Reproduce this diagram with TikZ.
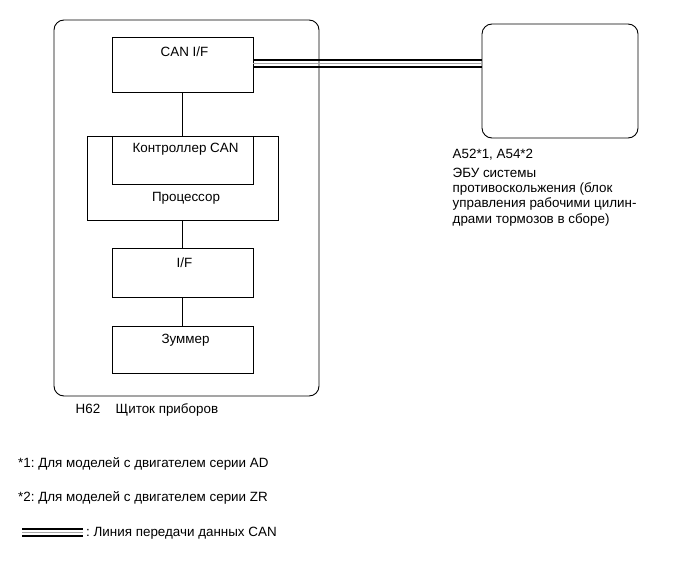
\documentclass[tikz,border=0pt]{standalone}
\usepackage{fontspec}
\setmainfont{Liberation Sans}
\frenchspacing
\begin{document}
\begin{tikzpicture}[x=1pt,y=-1pt,
  box/.style={draw=black, line width=0.9pt, rectangle, inner sep=0pt},
  rbox/.style={draw=black, line width=0.9pt, rectangle, rounded corners=10pt, inner sep=0pt},
  txt/.style={inner sep=0pt, anchor=base, font=\fontsize{13.4}{15}\selectfont},
  ltxt/.style={inner sep=0pt, anchor=base west, font=\fontsize{13.4}{15}\selectfont},
  wire/.style={line width=0.9pt},
  canblack/.style={line width=2pt, black},
  cangray/.style={line width=0.8pt, black!35}
]
\useasboundingbox (0,0) rectangle (690,562);
% outer ECU boxes
\node[rbox, minimum width=265pt, minimum height=376pt] (meter) at (186.5,208) {};
\node[rbox, minimum width=156pt, minimum height=114pt] (abs) at (560,81) {};
% inner blocks
\node[box, minimum width=141pt, minimum height=55pt] (canif) at (182.5,64.5) {};
\node[box, minimum width=191pt, minimum height=84pt] (cpu) at (182.5,178) {};
\node[box, minimum width=141pt, minimum height=48pt] (ctrl) at (182.5,160) {};
\node[box, minimum width=141pt, minimum height=49pt] (iface) at (182.5,272.5) {};
\node[box, minimum width=141pt, minimum height=47pt] (buzz) at (182.5,349.5) {};
% texts
\node[txt] (canift) at (184.5,56) {CAN I/F};
\node[txt] (ctrlt) at (185.5,152.5) {Контроллер CAN};
\node[txt] (cput) at (186,201.5) {Процессор};
\node[txt] (ifacet) at (184.5,267.5) {I/F};
\node[txt] (buzzt) at (185.5,343.5) {Зуммер};
\node[ltxt] (h62) at (75.5,413.5) {H62};
\node[ltxt] (h62n) at (115.5,413.5) {Щиток приборов};
\node[ltxt] (absc) at (452.5,158.5) {A52*1, A54*2};
\node[ltxt] (absn1) at (452.5,177.5) {ЭБУ системы};
\node[ltxt] (absn2) at (452.5,192.2) {противоскольжения (блок};
\node[ltxt] (absn3) at (452.5,207.7) {управления рабочими цилин-};
\node[ltxt] (absn4) at (452.5,223.2) {драми тормозов в сборе)};
\node[ltxt] (n1) at (18,467.5) {*1: Для моделей с двигателем серии AD};
\node[ltxt] (n2) at (18,501.5) {*2: Для моделей с двигателем серии ZR};
\node[ltxt] (n3) at (86,536.5) {: Линия передачи данных CAN};
% connectors
\draw[wire] (canif.south) -- (ctrl.north);
\draw[wire] (cpu.south) -- (iface.north);
\draw[wire] (iface.south) -- (buzz.north);
% CAN bus double line
\coordinate (busy) at (0,63.75);
\draw[canblack] ([yshift=-3.5pt]canif.east |- busy) -- ([yshift=-3.5pt]abs.west |- busy);
\draw[canblack] ([yshift=3.5pt]canif.east |- busy) -- ([yshift=3.5pt]abs.west |- busy);
\draw[cangray] (canif.east |- busy) -- (abs.west |- busy);
% legend
\coordinate (lg1) at (22,532.5);
\coordinate (lg2) at (83,532.5);
\draw[canblack] ([yshift=3.5pt]lg1) -- ([yshift=3.5pt]lg2);
\draw[canblack] ([yshift=-3.5pt]lg1) -- ([yshift=-3.5pt]lg2);
\draw[cangray] (lg1) -- (lg2);
\end{tikzpicture}
\end{document}
